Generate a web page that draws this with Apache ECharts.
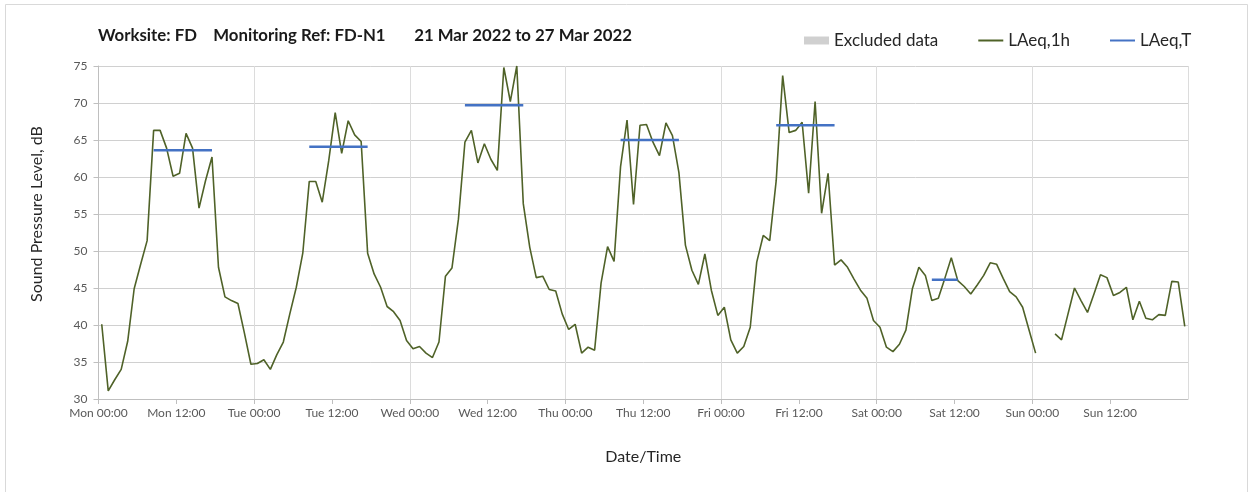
<!DOCTYPE html>
<html>
<head>
<meta charset="utf-8">
<title>Worksite FD – Noise Monitoring FD-N1</title>
<script src="https://cdn.jsdelivr.net/npm/echarts@6/dist/echarts.min.js"></script>
<style>
  html, body { margin: 0; padding: 0; background: #ffffff; }
  #chart { width: 1250px; height: 492px; }
</style>
</head>
<body>
<div id="chart"></div>
<script>
// Day names used for the x-axis tick labels (ticks every 12 hours)
const dayNames = ['Mon', 'Tue', 'Wed', 'Thu', 'Fri', 'Sat', 'Sun'];
const clockLabels = ['00:00', '12:00'];

// Hourly LAeq,1h values (dB) from Mon 00:00 to Sun 24:00; null = excluded hour
const laeq1h = [
  // Monday
  40.1, 31.1, 32.6, 34.0, 37.8, 44.9, 48.2, 51.4, 66.3, 66.3, 63.9, 60.1,
  60.5, 65.9, 63.9, 55.8, 59.5, 62.7, 47.8, 43.8, 43.3, 42.9, 38.9, 34.7,
  // Tuesday
  34.8, 35.3, 34.0, 36.0, 37.7, 41.5, 45.1, 49.7, 59.4, 59.4, 56.6, 62.2,
  68.7, 63.2, 67.6, 65.7, 64.8, 49.7, 46.9, 45.1, 42.5, 41.8, 40.6, 37.9,
  // Wednesday
  36.8, 37.1, 36.2, 35.6, 37.7, 46.6, 47.7, 54.3, 64.7, 66.3, 61.9, 64.5,
  62.4, 60.9, 74.8, 70.2, 75.0, 56.4, 50.5, 46.4, 46.6, 44.8, 44.6, 41.5,
  // Thursday
  39.4, 40.1, 36.2, 37.0, 36.6, 45.7, 50.6, 48.6, 61.4, 67.7, 56.3, 67.0,
  67.1, 64.7, 62.9, 67.3, 65.6, 60.6, 50.8, 47.4, 45.5, 49.6, 44.7, 41.3,
  // Friday
  42.4, 38.0, 36.2, 37.1, 39.7, 48.5, 52.1, 51.4, 59.5, 73.7, 66.0, 66.3,
  67.4, 57.8, 70.2, 55.1, 60.5, 48.1, 48.8, 47.8, 46.2, 44.7, 43.6, 40.6,
  // Saturday
  39.7, 37.0, 36.4, 37.4, 39.3, 44.9, 47.8, 46.7, 43.3, 43.6, 46.3, 49.1,
  46.0, 45.2, 44.2, 45.4, 46.7, 48.4, 48.2, 46.3, 44.5, 43.8, 42.4, 39.3,
  // Sunday
  36.2, null, null, 38.8, 38.0, 41.5, 45.0, 43.3, 41.7, 44.2, 46.8, 46.4,
  44.0, 44.4, 45.1, 40.7, 43.2, 40.9, 40.7, 41.4, 41.3, 45.9, 45.8, 39.8
];

// LAeq,T over each daytime assessment period (first and last hourly index)
const periodStartHour = [8, 32, 56, 80, 104, 128];
const periodEndHour = [17, 41, 65, 89, 113, 132];
const laeqT = [63.6, 64.1, 69.7, 65.0, 67.0, 46.1];

// Hourly samples sit at the middle of their hour
const hourlyData = laeq1h.map((v, i) => [i + 0.5, v]);

// Period levels as horizontal segments, separated by gaps
const periodData = [];
laeqT.forEach((v, i) => {
  periodData.push([periodStartHour[i] + 0.5, v]);
  periodData.push([periodEndHour[i] + 0.5, v]);
  periodData.push([periodEndHour[i] + 1, '-']);
});

const FONT = 'Lato, "Noto Sans", sans-serif';
const chart = echarts.init(document.getElementById('chart'), null, { renderer: 'canvas' });

chart.setOption({
  backgroundColor: '#ffffff',
  animation: false,
  textStyle: { fontFamily: FONT },
  title: {
    text: 'Worksite: FD    Monitoring Ref: FD-N1       21 Mar 2022 to 27 Mar 2022',
    left: 93,
    top: 22,
    textStyle: { fontFamily: FONT, fontSize: 16.8, fontWeight: 'bold', color: '#1a1a1a' }
  },
  legend: {
    left: 799,
    top: 27,
    itemGap: 39,
    itemWidth: 25,
    itemHeight: 8,
    textStyle: { fontFamily: FONT, fontSize: 17, color: '#262626' },
    data: [
      { name: 'Excluded data', icon: 'rect' },
      { name: 'LAeq,1h', itemStyle: { opacity: 0 } },
      { name: 'LAeq,T', itemStyle: { opacity: 0 } }
    ]
  },
  graphic: [
    {
      type: 'rect',
      silent: true,
      shape: { x: 5.5, y: 4.5, width: 1242, height: 500 },
      style: { fill: 'none', stroke: '#d9d9d9', lineWidth: 1 }
    },
    {
      type: 'text',
      x: 37,
      y: 214,
      rotation: Math.PI / 2,
      style: {
        text: 'Sound Pressure Level, dB',
        fontFamily: FONT,
        fontSize: 16,
        fill: '#262626',
        align: 'center',
        verticalAlign: 'middle'
      }
    }
  ],
  grid: { left: 98.5, right: 62, top: 66, bottom: 93, containLabel: false },
  xAxis: [
    {
      type: 'value',
      min: 0,
      max: 168,
      interval: 12,
      name: 'Date/Time',
      nameLocation: 'middle',
      nameGap: 50,
      nameTextStyle: { fontFamily: FONT, fontSize: 16, color: '#262626' },
      axisLine: { show: true, lineStyle: { color: '#bfbfbf', width: 1 } },
      axisTick: { show: true, length: 5, lineStyle: { color: '#bfbfbf' } },
      axisLabel: {
        margin: 8,
        fontFamily: FONT,
        fontSize: 12,
        color: '#595959',
        showMaxLabel: false,
        formatter: v => dayNames[Math.floor(v / 24) % 7] + ' ' + clockLabels[(v % 24) / 12]
      },
      splitLine: { show: false }
    },
    {
      // Daily vertical grid lines
      type: 'value',
      min: 0,
      max: 168,
      interval: 24,
      position: 'bottom',
      axisLine: { show: false },
      axisTick: { show: false },
      axisLabel: { show: false },
      splitLine: { show: true, lineStyle: { color: '#dcdcdc', width: 1 } }
    }
  ],
  yAxis: {
    type: 'value',
    min: 30,
    max: 75,
    interval: 5,
    axisLine: { show: true, lineStyle: { color: '#bfbfbf', width: 1 } },
    axisTick: { show: true, length: 5, lineStyle: { color: '#bfbfbf' } },
    axisLabel: { margin: 11, fontFamily: FONT, fontSize: 12, color: '#595959' },
    splitLine: { show: true, lineStyle: { color: '#d0d0d0', width: 1 } }
  },
  series: [
    {
      name: 'Excluded data',
      type: 'bar',
      itemStyle: { color: '#d0d0d0' },
      data: []
    },
    {
      name: 'LAeq,1h',
      type: 'line',
      xAxisIndex: 0,
      symbol: 'none',
      connectNulls: false,
      clip: true,
      lineStyle: { color: '#4f6228', width: 1.6 },
      itemStyle: { color: '#4f6228' },
      data: hourlyData,
      z: 3
    },
    {
      name: 'LAeq,T',
      type: 'line',
      xAxisIndex: 0,
      symbol: 'none',
      connectNulls: false,
      lineStyle: { color: '#4472c4', width: 2.5 },
      itemStyle: { color: '#4472c4' },
      data: periodData,
      z: 4
    }
  ]
});
</script>
</body>
</html>
